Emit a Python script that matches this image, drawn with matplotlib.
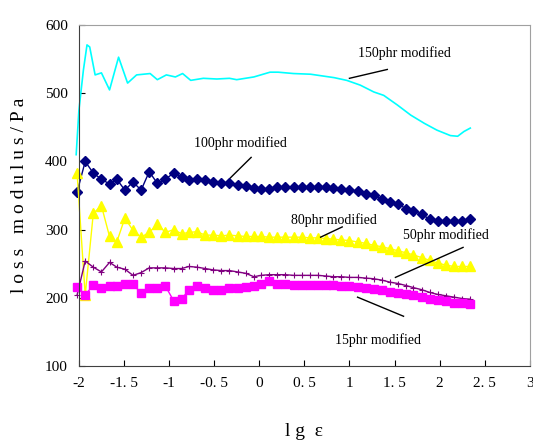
import matplotlib
matplotlib.use("Agg")
import matplotlib.pyplot as plt

# lg(strain) grid shared by the marker series
x_pts = [-2.02, -1.93, -1.84, -1.75, -1.66, -1.58, -1.49, -1.40, -1.31, -1.22,
         -1.13, -1.04, -0.95, -0.86, -0.78, -0.69, -0.60, -0.51, -0.42, -0.33,
         -0.24, -0.15, -0.06, 0.02, 0.11, 0.20, 0.29, 0.38, 0.47, 0.56,
         0.65, 0.74, 0.82, 0.91, 1.00, 1.09, 1.18, 1.27, 1.36, 1.45,
         1.54, 1.63, 1.71, 1.80, 1.89, 1.98, 2.07, 2.16, 2.25, 2.34]

phr100 = [355, 400, 383, 374, 367, 374, 358, 370, 358, 385,
          368, 374, 383, 377, 373, 374, 373, 370, 369, 369,
          366, 364, 361, 360, 360, 363, 362, 362, 362, 362,
          362, 362, 361, 359, 358, 356, 353, 351, 345, 340,
          337, 331, 327, 323, 315, 313, 312, 312, 312, 315]

phr80 = [383, 204, 324, 335, 290, 282, 317, 299, 289, 296,
         308, 296, 300, 294, 296, 297, 292, 292, 291, 292,
         291, 290, 290, 290, 289, 289, 289, 289, 289, 288,
         288, 287, 286, 285, 284, 282, 280, 277, 275, 272,
         269, 266, 263, 259, 255, 251, 248, 246, 246, 246]

phr50 = [204, 254, 245, 238, 252, 245, 242, 233, 237, 244,
         244, 244, 243, 243, 246, 245, 243, 241, 240, 240,
         238, 236, 231, 233, 234, 234, 234, 233, 233, 233,
         233, 232, 231, 231, 230, 230, 229, 228, 226, 223,
         221, 218, 215, 212, 208, 205, 203, 201, 199, 198]

phr15 = [216, 204, 219, 214, 217, 217, 220, 220, 207, 215,
         215, 217, 196, 199, 211, 217, 214, 212, 212, 214,
         215, 216, 218, 220, 224, 220, 220, 219, 219, 219,
         219, 219, 219, 218, 217, 216, 215, 213, 211, 209,
         207, 205, 204, 201, 199, 197, 195, 193, 192, 191]

# 150phr is a plain line sampled more densely
x150 = [-2.03, -2.00, -1.95, -1.91, -1.88, -1.82, -1.75, -1.66, -1.56, -1.46,
        -1.36, -1.21, -1.13, -1.03, -0.93, -0.85, -0.76, -0.62, -0.47, -0.33,
        -0.25, -0.06, 0.12, 0.21, 0.38, 0.57, 0.83, 0.97, 1.12, 1.27,
        1.38, 1.53, 1.68, 1.83, 1.97, 2.12, 2.20, 2.27, 2.34]
phr150 = [410, 475, 534, 571, 568, 527, 530, 505, 553, 515,
          527, 529, 520, 527, 524, 529, 519, 522, 521, 522,
          520, 524, 531, 531, 529, 528, 523, 519, 512, 502,
          497, 483, 468, 456, 446, 438, 437, 444, 449]

xticks = [-2, -1.5, -1, -0.5, 0, 0.5, 1, 1.5, 2, 2.5, 3]
xtick_labels = ['-2', '-1. 5', '-1', '-0. 5', '0', '0. 5', '1', '1. 5', '2', '2. 5', '3']
yticks = [100, 200, 300, 400, 500, 600]

labels = ['150phr modified', '100phr modified', '80phr modified',
          '50phr modified', '15phr modified']
label_xy = [(1.61, 559), (-0.21, 427), (0.83, 314), (2.07, 292), (1.32, 138)]
leader_x = [(1.00, 1.42), (-0.09, -0.32), (0.92, 0.68), (2.26, 1.51), (1.09, 1.60)]
leader_y = [(522, 535), (406, 376), (304, 289), (274, 230), (201, 173)]

plt.rcParams['font.family'] = ['Liberation Serif', 'DejaVu Serif']

fig = plt.figure(figsize=(5.33, 4.41), dpi=100)
ax = fig.add_axes([0.148, 0.170, 0.846, 0.773])

ax.plot(x150, phr150, color='#00FFFF', lw=1.2, clip_on=False)
ax.plot(x_pts, phr100, color='#000080', lw=1, marker='D', ms=5, clip_on=False)
ax.plot(x_pts, phr80, color='#FFFF00', lw=1, marker='^', ms=7, clip_on=False)
ax.plot(x_pts, phr50, color='#800080', lw=1, marker='+', ms=4, mew=0.8, clip_on=False)
ax.plot(x_pts, phr15, color='#FF00FF', lw=1, marker='s', ms=6, clip_on=False)

for txt, (tx, ty), lx, ly in zip(labels, label_xy, leader_x, leader_y):
    ax.text(tx, ty, txt, fontsize=10, ha='center', va='center')
    ax.plot(lx, ly, color='black', lw=1)

ax.set_xlim(-2, 3)
ax.set_ylim(100, 600)
ax.set_xticks(xticks)
ax.set_xticklabels(xtick_labels)
ax.set_yticks(yticks)
ax.tick_params(direction='in', length=4, labelsize=11, pad=8)

ax.spines['left'].set_color('#404040')
ax.spines['bottom'].set_color('#404040')
ax.spines['top'].set_color('#a0a0a0')
ax.spines['right'].set_color('#a0a0a0')

ax.set_ylabel('l o s s   m o d u l u s / P a', fontsize=14, labelpad=12)
ax.set_xlabel('l g  ε', fontsize=14, labelpad=24)

fig.savefig('out.png', dpi=100)
